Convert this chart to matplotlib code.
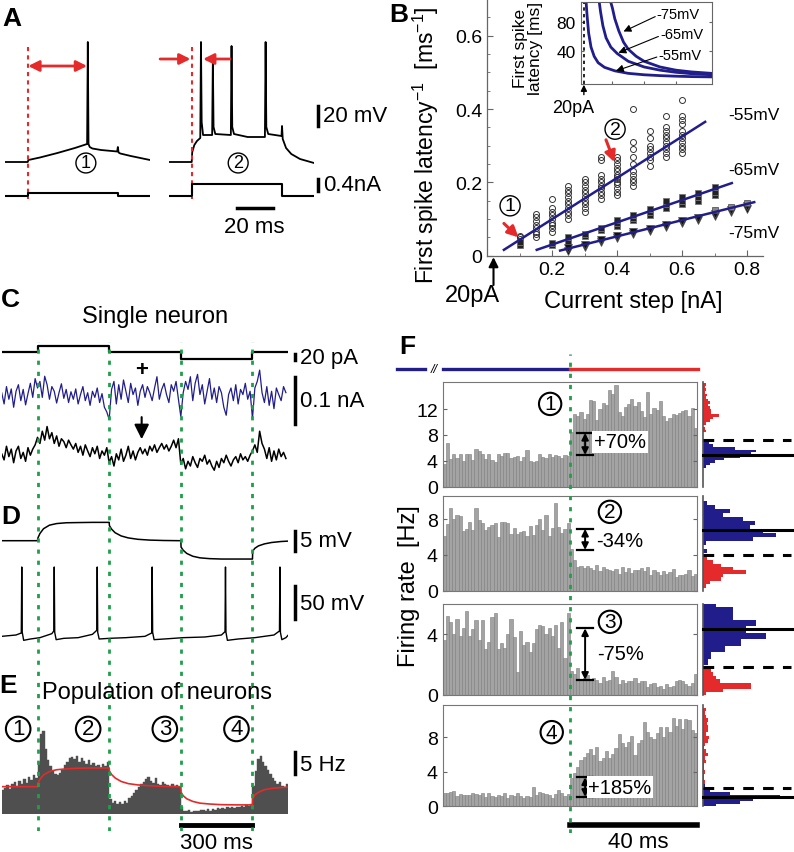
import matplotlib
matplotlib.use("Agg")
import matplotlib.pyplot as plt
import numpy as np

plt.rcParams["font.family"] = ["Liberation Sans", "DejaVu Sans"]
plt.rcParams["mathtext.fontset"] = "custom"
plt.rcParams["mathtext.rm"] = "Liberation Sans"
plt.rcParams["mathtext.it"] = "Liberation Sans:italic"

NAVY = "#211e8c"
RED = "#e42a2a"
GREEN = "#1f9f4c"
BARGRAY = "#a3a3a3"

# ---------------- data ----------------
# A: example responses (ms, mV, nA)
a_t1 = [0, 13, 13.4, 20, 30, 40, 47.0, 47.4, 47.8, 48.5, 50, 55, 64.2, 64.6, 65.0, 66, 72, 83]
a_v1 = [-65, -65, -63, -60.5, -56, -51, -47, 55, -47, -50, -51.5, -53, -54.5, -50, -55.5, -56.5, -59, -63]
a_t2 = [0, 13, 13.3, 14.5, 16, 17.9, 18.3, 18.7, 19.5, 24.7, 25.1, 25.5, 26.5, 35.4, 35.8, 36.2, 37.2,
        45, 54.9, 55.3, 55.7, 56.8, 64.4, 64.7, 65.1, 67, 70, 75, 83]
a_v2 = [-65, -65, -55, -48, -44, -41, 55, -25, -38, -38, 38, -30, -37, -38, 51, -30, -37,
        -40, -40, 55, -30, -37, -39, -29, -42, -51, -57, -62, -66]
a_step_t = [0, 13, 13, 64.6, 64.6, 83]
a_i1 = [0, 0, 0.1, 0.1, 0, 0]
a_i2 = [0, 0, 0.4, 0.4, 0, 0]

# B: inverse first spike latency vs current step
cur55 = [0.10, 0.15, 0.20, 0.25, 0.30, 0.35, 0.40, 0.45, 0.50, 0.55, 0.60]
lat55 = [
    [0.03, 0.035, 0.04, 0.045, 0.05, 0.055],
    [0.05, 0.06, 0.065, 0.075, 0.085, 0.095, 0.105, 0.115],
    [0.065, 0.075, 0.085, 0.09, 0.10, 0.11, 0.12, 0.13, 0.155],
    [0.10, 0.11, 0.12, 0.13, 0.14, 0.15, 0.16, 0.17, 0.18, 0.19],
    [0.12, 0.13, 0.14, 0.15, 0.16, 0.17, 0.18, 0.19, 0.20, 0.21],
    [0.155, 0.165, 0.175, 0.185, 0.19, 0.20, 0.21, 0.22, 0.26, 0.27],
    [0.165, 0.175, 0.185, 0.195, 0.20, 0.21, 0.215, 0.22, 0.23, 0.24, 0.25, 0.26, 0.27],
    [0.19, 0.20, 0.21, 0.22, 0.23, 0.25, 0.27, 0.29, 0.31, 0.40],
    [0.245, 0.26, 0.27, 0.28, 0.29, 0.30, 0.32, 0.34],
    [0.27, 0.28, 0.29, 0.30, 0.31, 0.32, 0.33, 0.34, 0.35, 0.38],
    [0.28, 0.29, 0.30, 0.31, 0.32, 0.33, 0.34, 0.36, 0.37, 0.38, 0.425],
]
cur65 = [0.10, 0.20, 0.25, 0.30, 0.35, 0.40, 0.45, 0.50, 0.55, 0.60, 0.65, 0.70]
lat65 = [[0.03, 0.036], [0.03, 0.035], [0.04, 0.05], [0.055, 0.06], [0.07, 0.076],
         [0.08, 0.09, 0.096], [0.096, 0.104, 0.11], [0.11, 0.12, 0.126], [0.13, 0.14, 0.15],
         [0.14, 0.15, 0.16], [0.15, 0.16, 0.17], [0.165, 0.175, 0.188]]
cur75 = [0.25, 0.30, 0.35, 0.40, 0.45, 0.50, 0.55, 0.60, 0.65, 0.70, 0.75, 0.80]
lat75 = [[0.013, 0.02], [0.025, 0.03], [0.038, 0.043], [0.048, 0.054], [0.058, 0.064],
         [0.068, 0.074], [0.078, 0.084], [0.088, 0.094], [0.098, 0.104], [0.108, 0.114],
         [0.118, 0.124], [0.128, 0.136]]
cur75_sq = [0.70, 0.75, 0.80]
lat75_sq = [0.125, 0.133, 0.145]
fit55_x, fit55_y = [0.052, 0.671], [0.016, 0.365]
fit65_x, fit65_y = [0.153, 0.753], [0.016, 0.198]
fit75_x, fit75_y = [0.225, 0.822], [0.014, 0.146]

# B inset: latency (ms) vs current (nA)
ins55_x = [0.033, 0.04, 0.05, 0.065, 0.085, 0.11, 0.15, 0.216, 0.3, 0.4, 0.5, 0.6, 0.7, 0.826]
ins55_y = [112, 90, 65, 45, 32, 23, 16.5, 11.5, 8, 6, 4.8, 4, 3.4, 3]
ins65_x = [0.115, 0.125, 0.14, 0.16, 0.19, 0.23, 0.3, 0.4, 0.5, 0.6, 0.7, 0.826]
ins65_y = [112, 95, 75, 58, 45, 36, 25, 17, 12.5, 9.5, 7.5, 6]
ins75_x = [0.185, 0.2, 0.215, 0.24, 0.27, 0.3, 0.35, 0.4, 0.5, 0.6, 0.7, 0.826]
ins75_y = [112, 100, 85, 68, 52, 42, 32, 25, 17, 12.5, 10, 8]

# C: current protocol (pA) and noisy traces, 10 ms samples
c_step_t = [0, 150, 150, 450, 450, 750, 750, 1050, 1050, 1200]
c_step_i = [0, 0, 20, 20, 0, 0, -20, -20, 0, 0]
c_switch = [150, 450, 750, 1050]
c_blue_pA = [7, -17, 20, -7, 15, -24, 10, 24, -10, 14, -19, 5, 27, -3, 37,
             17, 31, -3, 42, 24, -7, 20, 10, -15, 7, 26, -5, 14, -14, 9,
             -7, 15, -17, 3, 20, -10, 7, -20, 10, -3, 17, -14, 5, -24, -34,
             -50, 14, 31, -17, 24, -7, 34, 10, -14, 27, 3, 17, -20, 10, 24,
             -3, 20, 7, -10, 17, 41, -7, 14, 27, 3, -14, 24, 10, 31, -7,
             -44, 7, 31, 14, 41, -10, 27, 46, 3, 24, -17, 10, 37, -7, 17,
             -14, 20, 7, -24, -41, 3, 17, -10, 24, -17, 14, 3, 27, -7, 10,
             -48, 17, 31, 55, 7, -14, 20, -20, 10, -27, 17, 3, -10, 20, 7]
c_black_pA = [0, -13, 16, -6, 10, -19, 6, 16, -10, 3, -16, 13, -3, 10, 19,
              35, 22, 48, 29, 58, 32, 45, 22, 38, 16, 32, 26, 13, 29, 19,
              10, 22, 3, 16, -3, 19, 6, -6, 13, 0, 16, -10, 6, -3, 13,
              -19, -6, -26, 0, -13, 10, -16, -3, 16, -10, 6, -13, 3, 13, 0,
              10, -3, 16, 6, 19, 3, 13, 22, 10, 19, 6, 16, 29, 13, 32,
              -22, -10, -32, -16, -26, -6, -19, -29, -10, -16, -3, -22, -13, -26, -35,
              -16, -29, -10, -19, -3, -16, -26, -13, -6, -19, 0, -13, -6, -16, -3,
              6, 19, 3, 48, 22, 10, -10, 13, -16, 6, -13, 10, -6, 3, -10]

# D: subthreshold response (mV relative) and spiking trace (mV)
d_t = [0, 150, 151, 160, 175, 200, 230, 270, 320, 380, 450, 451, 460, 475, 500, 530, 570, 620,
       680, 750, 751, 760, 775, 800, 830, 870, 920, 980, 1050, 1051, 1060, 1075, 1100, 1130, 1170, 1200]
d_v = [0, 0, 0.6, 1.8, 3.0, 3.9, 4.3, 4.5, 4.55, 4.6, 4.6, 3.8, 2.9, 2.0, 1.2, 0.7, 0.35, 0.15,
       0.05, 0, -1.6, -2.4, -3.2, -3.9, -4.3, -4.5, -4.6, -4.6, -4.6, -2.6, -1.9, -1.3, -0.8, -0.45, -0.2, -0.1]
sp_t = [0, 60, 82, 84, 86, 92, 120, 160, 210, 218, 220, 222, 228, 260, 320, 380, 398, 400, 402, 408,
        450, 520, 600, 628, 630, 632, 638, 680, 760, 850, 920, 935, 937, 939, 945, 990, 1060, 1140,
        1163, 1165, 1167, 1173, 1190, 1200]
sp_v = [-66, -64, -61, 38, -60, -72, -70, -68, -62, -58, 38, -60, -71, -69, -68, -63, -57, 38, -60, -70,
        -69, -68, -66, -61, 38, -60, -71, -70, -68, -67, -64, -59, 38, -60, -72, -70, -68, -64,
        -58, 38, -60, -71, -68, -64]

# E: population rate (Hz), 10 ms bins, and model rate
e_rate = [5.5, 6.0, 6.6, 5.8, 6.9, 7.3, 6.4, 7.6, 7.0, 8.1, 7.2, 8.6, 7.8, 8.9, 8.2,
          12.0, 18.5, 19.2, 15.0, 12.5, 11.0, 9.8, 9.2, 9.0, 9.4, 10.2, 11.2, 12.0, 12.8, 13.2,
          12.6, 13.4, 12.0, 12.8, 12.2, 11.6, 12.4, 11.2, 11.8, 11.0, 11.4, 10.6, 11.6, 11.0, 12.0,
          3.4, 2.6, 3.0, 2.2, 2.8, 2.4, 3.1, 2.6, 3.6, 4.2, 4.8, 5.6, 6.2, 6.8, 7.4,
          8.0, 8.6, 7.6, 7.2, 8.2, 7.0, 6.6, 7.4, 6.8, 6.6, 6.2, 7.0, 6.4, 6.6, 6.2,
          1.6, 0.8, 0.6, 0.9, 0.5, 0.7, 0.8, 0.6, 0.9, 1.0, 0.7, 1.1, 0.8, 1.2, 1.0,
          1.3, 1.1, 1.4, 1.2, 1.5, 1.3, 1.6, 1.4, 1.7, 1.5, 1.9, 1.6, 2.0, 1.8, 2.2,
          6.5, 10.0, 12.6, 13.4, 12.0, 11.0, 10.2, 9.2, 8.2, 7.6, 7.0, 7.4, 6.4, 6.0, 6.8]
e_model = [6.3, 6.3, 6.9, 8.0, 9.0, 9.8, 10.2, 10.4, 10.55, 10.6, 10.6, 9.9, 9.1, 8.3, 7.5, 7.0, 6.7, 6.5,
           6.35, 6.3, 5.0, 4.2, 3.5, 2.9, 2.5, 2.3, 2.15, 2.1, 2.1, 3.6, 4.4, 5.0, 5.6, 5.9, 6.1, 6.2]

# F: firing rate histograms, 1 ms bins, 40 before / 40 after the switch
f_pre = [
    [3.5, 6.8, 4.3, 5.1, 4.4, 5.1, 4.0, 5.1, 5.1, 4.1, 5.8, 5.5, 5.0, 4.3, 5.1, 4.1, 3.8, 5.0, 4.8, 5.2,
     5.2, 4.4, 4.6, 4.8, 4.0, 4.5, 5.6, 4.0, 3.8, 3.9, 5.0, 4.6, 4.4, 5.0, 4.5, 4.9, 4.8, 4.4, 4.9, 4.8],
    [6.1, 7.4, 9.2, 8.0, 8.4, 8.3, 6.7, 6.9, 7.7, 6.8, 9.2, 7.9, 7.5, 6.8, 7.1, 7.3, 7.5, 6.0, 7.7, 7.7,
     7.5, 6.3, 7.0, 6.3, 6.6, 6.7, 6.1, 7.2, 6.2, 7.3, 8.0, 6.8, 8.4, 6.1, 7.0, 9.8, 7.1, 6.4, 6.9, 7.5],
    [3.6, 5.2, 4.8, 4.0, 5.0, 3.9, 4.4, 5.5, 3.9, 4.3, 4.9, 3.6, 4.9, 3.0, 3.5, 5.1, 5.4, 3.0, 3.4, 3.1,
     4.0, 5.0, 3.8, 1.5, 4.2, 3.3, 3.5, 2.8, 3.4, 4.3, 4.6, 4.5, 4.0, 4.4, 3.9, 4.6, 3.1, 4.8, 2.4, 5.4],
    [1.6, 1.5, 1.7, 1.8, 1.2, 1.4, 1.3, 1.3, 1.3, 1.5, 1.4, 1.3, 1.5, 1.1, 1.6, 1.2, 1.1, 1.3, 1.2, 1.5,
     1.0, 1.3, 1.2, 1.6, 1.2, 1.0, 1.2, 1.1, 2.2, 1.3, 1.7, 1.5, 1.4, 1.3, 1.0, 1.4, 1.9, 1.5, 1.2, 1.4],
]
f_post = [
    [8.5, 11.3, 11.0, 11.6, 10.5, 11.3, 13.4, 13.2, 10.3, 12.0, 13.0, 12.7, 14.9, 14.3, 15.8, 11.6, 11.0, 12.3, 12.8, 13.6,
     12.4, 13.1, 11.7, 10.7, 14.6, 11.3, 12.2, 11.9, 13.2, 11.0, 10.2, 10.6, 11.2, 11.1, 11.4, 11.7, 11.8, 11.0, 12.1, 9.1],
    [4.6, 3.4, 2.6, 2.8, 2.5, 2.8, 2.5, 2.3, 2.9, 2.2, 2.6, 2.4, 2.3, 2.2, 2.4, 1.9, 2.6, 2.1, 2.5, 2.0,
     2.3, 2.3, 2.5, 2.2, 2.6, 1.8, 2.3, 2.1, 1.7, 2.2, 1.9, 2.1, 2.4, 1.5, 1.8, 1.7, 1.9, 2.3, 1.6, 1.9],
    [1.6, 1.4, 1.8, 1.0, 1.1, 1.3, 0.9, 1.1, 1.0, 0.8, 1.2, 0.9, 1.0, 1.6, 1.2, 0.7, 1.0, 0.8, 0.9, 0.9,
     1.1, 0.8, 0.9, 0.9, 0.5, 0.7, 0.8, 0.5, 0.6, 0.4, 0.7, 0.5, 0.6, 0.9, 1.0, 0.9, 0.7, 0.6, 0.8, 1.4],
    [3.3, 3.9, 4.6, 5.4, 5.7, 6.2, 6.6, 5.9, 6.9, 5.3, 5.6, 6.4, 5.6, 6.1, 6.8, 8.4, 7.3, 6.9, 7.5, 8.2,
     6.0, 7.3, 7.7, 9.8, 8.6, 8.0, 7.8, 8.5, 9.2, 8.0, 9.2, 8.6, 10.2, 9.3, 10.1, 9.0, 10.1, 10.0, 8.8, 8.5],
]
f_labels = ["1", "2", "3", "4"]
f_change = ["+70%", "-34%", "-75%", "+185%"]
f_arrow = [(4.9, 8.3), (6.9, 4.55), (4.37, 1.0), (1.1, 3.36)]
f_yticks = [[0, 4, 8, 12], [0, 4, 8], [0, 4], [0, 4, 8]]
f_ytop = [16.15, 10.6, 5.97, 11.75]

# F: marginal distributions of rates (Hz centres, counts)
m_blue_hz = [[3.1, 3.5, 3.9, 4.3, 4.7, 5.1, 5.5, 5.9, 6.3, 6.7],
             [4.4, 5.3, 5.75, 6.2, 6.65, 7.1, 7.55, 8.0, 8.45, 8.9, 9.35, 9.8],
             [2.15, 2.58, 3.01, 3.44, 3.87, 4.30, 4.73, 5.16, 5.59, 5.95],
             [0.1, 0.45, 0.8, 1.15, 1.5, 1.9, 2.5]]
m_blue_n = [[3, 7, 12, 21, 37, 48, 53, 32, 10, 6],
            [4, 3, 50, 73, 60, 47, 52, 40, 20, 27, 12, 4],
            [5, 8, 22, 38, 63, 43, 53, 30, 30, 13],
            [13, 37, 50, 77, 27, 7, 2]]
m_red_hz = [[8.6, 9.0, 9.8, 10.2, 10.6, 11.0, 11.4, 11.8, 12.2, 12.6, 13.0, 13.4, 13.8, 14.2, 14.6, 15.0, 15.4, 15.8],
            [0.55, 0.93, 1.31, 1.69, 2.07, 2.45, 2.83, 3.21, 3.59],
            [0.18, 0.4, 0.62, 0.84, 1.06, 1.28, 1.5, 1.72],
            [2.8, 3.2, 3.6, 4.0, 4.4, 4.8, 5.2, 5.6, 6.0, 6.4, 6.8, 7.2, 7.6, 8.0, 8.4, 8.8, 9.2, 9.6, 10.0, 10.4, 10.8, 11.2]]
m_red_n = [[3, 2, 3, 7, 10, 16, 8, 8, 7, 5, 7, 5, 3, 4, 2, 3, 2, 3],
           [3, 7, 18, 20, 43, 30, 18, 10, 4],
           [3, 20, 48, 17, 13, 10, 8, 7],
           [2, 1, 1, 2, 1, 1, 3, 2, 5, 3, 1, 2, 5, 6, 3, 5, 5, 4, 5, 3, 2, 3]]
m_mean = [4.93, 6.82, 4.33, 1.04]
m_thresh = [7.26, 4.02, 1.82, 2.08]

# ---------------- layout helpers ----------------
W, H = 794, 853
fig = plt.figure(figsize=(W / 100, H / 100), dpi=100)


def px_axes(x0, y0, x1, y1, off=True):
    ax = fig.add_axes([x0 / W, 1 - y1 / H, (x1 - x0) / W, (y1 - y0) / H])
    if off:
        ax.axis("off")
    return ax


def fig_text(x, y, s, **kw):
    fig.text(x / W, 1 - y / H, s, **kw)


def circled(ax, x, y, s, size=13, lw=1.0):
    ax.text(x, y, s, ha="center", va="center", fontsize=size, zorder=6,
            bbox=dict(boxstyle="circle,pad=0.08", fc="white", ec="black", lw=lw))


for lab, (x, y) in zip("ABCDEF", [(12, 19), (399, 15), (10, 300), (11, 517), (8, 686), (407, 347)]):
    fig_text(x, y, lab, fontsize=19, fontweight="bold", ha="center", va="center")

# ---------------- A ----------------
for k, (x0, tt, vv, ii) in enumerate([(5, a_t1, a_v1, a_i1), (169, a_t2, a_v2, a_i2)]):
    axv = px_axes(x0, 38, x0 + 145, 172)
    axi = px_axes(x0, 176, x0 + 145, 205)
    axv.set_xlim(0, 83); axv.set_ylim(-74, 60)
    axi.set_xlim(0, 83); axi.set_ylim(-0.277, 0.69)
    axv.plot(tt, vv, color="black", lw=1.3)
    axi.plot(a_step_t, ii, color="black", lw=1.5)
    axv.plot([13, 13], [50, -102], color=RED, ls=(0, (2, 2)), lw=1.5, clip_on=False)
    if k == 0:
        axv.annotate("", xy=(13.3, 31), xytext=(47, 31),
                     arrowprops=dict(arrowstyle="<|-|>", color=RED, lw=2, mutation_scale=16,
                                     shrinkA=0, shrinkB=0))
        circled(axv, 46.3, -66, "1", size=13)
    else:
        axv.annotate("", xy=(12.3, 38), xytext=(-5.1, 38), annotation_clip=False,
                     arrowprops=dict(arrowstyle="-|>", color=RED, lw=2, mutation_scale=16,
                                     shrinkA=0, shrinkB=0))
        axv.annotate("", xy=(19.5, 38), xytext=(34.9, 38),
                     arrowprops=dict(arrowstyle="-|>", color=RED, lw=2, mutation_scale=16,
                                     shrinkA=0, shrinkB=0))
        circled(axv, 39.6, -66, "2", size=13)
        axv.plot([85.3, 85.3], [-9, -29], color="black", lw=2.5, clip_on=False)
        axv.text(88, -19, "20 mV", fontsize=16, va="center", ha="left")
        axi.plot([85.3, 85.3], [0.17, 0.55], color="black", lw=2.5, clip_on=False)
        axi.text(88, 0.36, "0.4nA", fontsize=16, va="center", ha="left")
        axi.plot([38.7, 59.3], [-0.41, -0.41], color="black", lw=2.5, clip_on=False)
        axi.text(49, -1.04, "20 ms", fontsize=16, va="center", ha="center")

# ---------------- B ----------------
axB = px_axes(487, 0, 763, 256.7, off=False)
for c, ys in zip(cur55, lat55):
    axB.plot([c] * len(ys), ys, "o", ms=4.3, mfc="none", mec="#333333", mew=0.7)
for c, ys in zip(cur65, lat65):
    axB.plot([c] * len(ys), ys, "s", ms=4.3, mfc="#222222", mec="#777777", mew=0.6)
for c, ys in zip(cur75, lat75):
    axB.plot([c] * len(ys), ys, "v", ms=6, mfc="#111111", mec="#555555", mew=0.5)
axB.plot(cur75_sq, lat75_sq, "s", ms=4.5, mfc="#888888", mec="#444444", mew=0.5)
for fx, fy in [(fit55_x, fit55_y), (fit65_x, fit65_y), (fit75_x, fit75_y)]:
    axB.plot(fx, fy, color=NAVY, lw=1.8, zorder=4)
axB.text(0.743, 0.386, "-55mV", fontsize=12.5, ha="left", va="center")
axB.text(0.743, 0.236, "-65mV", fontsize=12.5, ha="left", va="center")
axB.text(0.743, 0.064, "-75mV", fontsize=12.5, ha="left", va="center")
circled(axB, 0.071, 0.136, "1", size=14)
circled(axB, 0.394, 0.345, "2", size=14)
for (x0, y0), (x1, y1) in [((0.052, 0.088), (0.097, 0.05)), ((0.366, 0.316), (0.392, 0.255))]:
    axB.annotate("", xy=(x1, y1), xytext=(x0, y0),
                 arrowprops=dict(arrowstyle="-|>", color=RED, lw=2.2, mutation_scale=16,
                                 shrinkA=0, shrinkB=0), zorder=6)
axB.set_xlim(0, 0.849)
axB.set_ylim(0, 0.7)
axB.set_xticks([0.2, 0.4, 0.6, 0.8])
axB.set_xticklabels(["0.2", "0.4", "0.6", "0.8"])
axB.set_xticks([0.1, 0.3, 0.5, 0.7], minor=True)
axB.set_yticks([0, 0.2, 0.4, 0.6])
axB.set_yticklabels(["0", "0.2", "0.4", "0.6"])
axB.set_yticks([0.05, 0.1, 0.15, 0.25, 0.3, 0.35, 0.45, 0.5, 0.55, 0.65], minor=True)
axB.tick_params(which="both", direction="in", labelsize=14, color="#666666")
axB.tick_params(which="major", length=4)
axB.tick_params(which="minor", length=2.5)
for s in ["top", "right"]:
    axB.spines[s].set_visible(False)
for s in ["left", "bottom"]:
    axB.spines[s].set_color("#666666")
    axB.spines[s].set_linewidth(0.9)
axB.set_ylabel("First spike latency$^{-1}$  [ms$^{-1}$]", fontsize=16.5)
axB.yaxis.set_label_coords(-0.165, 0.435)
axB.set_xlabel("Current step [nA]", fontsize=17)
axB.xaxis.set_label_coords(0.53, -0.135)
axB.annotate("", xy=(0.02, -0.004), xytext=(0.02, -0.08), annotation_clip=False,
             arrowprops=dict(arrowstyle="-|>", color="black", lw=1.5, mutation_scale=14,
                             shrinkA=0, shrinkB=0))
axB.text(-0.045, -0.108, "20pA", fontsize=17, ha="center", va="center", clip_on=False)

# B inset
axI = px_axes(580.7, 2.7, 711.7, 85, off=False)
axI.patch.set_facecolor("white")
for xx, yy in [(ins55_x, ins55_y), (ins65_x, ins65_y), (ins75_x, ins75_y)]:
    axI.plot(xx, yy, color=NAVY, lw=2)
axI.axvline(0.02, color="black", ls=(0, (2, 2)), lw=1.2)
axI.set_xlim(0, 0.826)
axI.set_ylim(-7, 109)
axI.set_xticks([0.2, 0.4, 0.6])
axI.set_xticklabels([])
axI.set_yticks([40, 80])
axI.tick_params(direction="in", labelsize=12.5, length=2.5, color="#666666", right=True)
for s in axI.spines.values():
    s.set_color("#666666")
    s.set_linewidth(0.8)
axI.set_ylabel("First spike\nlatency [ms]", fontsize=12.5, linespacing=1.0)
axI.yaxis.set_label_coords(-0.29, 0.45)
for lab, (tx, ty), (hx, hy) in [("-75mV", (0.47, 88), (0.27, 67)),
                                ("-65mV", (0.49, 60), (0.238, 37)),
                                ("-55mV", (0.48, 31), (0.222, 11.5))]:
    axI.annotate("", xy=(hx, hy), xytext=(tx, ty),
                 arrowprops=dict(arrowstyle="-|>", color="black", lw=0.8, mutation_scale=11,
                                 shrinkA=0, shrinkB=0))
    axI.text(tx + 0.01, ty + 3, lab, fontsize=10.5, ha="left", va="center")
axI.annotate("", xy=(0.02, -8), xytext=(0.02, -22), annotation_clip=False,
             arrowprops=dict(arrowstyle="-|>", color="black", lw=1, mutation_scale=9,
                             shrinkA=0, shrinkB=0))
axI.text(-0.05, -28, "20pA", fontsize=13, ha="center", va="top", clip_on=False)

# ---------------- C ----------------
t10 = np.arange(0, 1200, 10)
fig_text(155, 317, "Single neuron", fontsize=17, ha="center", va="center")
axCs = px_axes(1.7, 340, 288.3, 370)
axCs.set_xlim(0, 1200); axCs.set_ylim(-49.9, 39.7)
axCs.plot(c_step_t, c_step_i, color="black", lw=1.6)
axCs.plot([1227, 1227], [-6, -24], color="black", lw=2.5, clip_on=False)
axCs.text(1250, -15, "20 pA", fontsize=16, ha="left", va="center")

axCn = px_axes(1.7, 370, 288.3, 475)
axCn.set_xlim(0, 1200); axCn.set_ylim(-0.166, 0.0574)
axCn.plot(t10, np.array(c_blue_pA) / 1000, color=NAVY, lw=0.9)
axCn.plot(t10, np.array(c_black_pA) / 1000 - 0.123, color="black", lw=1.1)
axCn.text(586, 0.057, "+", fontsize=16, fontweight="bold", ha="center", va="center")
axCn.annotate("", xy=(586, -0.092), xytext=(586, -0.045),
              arrowprops=dict(arrowstyle="-|>", color="black", lw=1.5, mutation_scale=22,
                              shrinkA=0, shrinkB=0))
axCn.plot([1227, 1227], [0.040, -0.060], color="black", lw=2.5, clip_on=False)
axCn.text(1250, -0.01, "0.1 nA", fontsize=16, ha="left", va="center")

# ---------------- D ----------------
axD1 = px_axes(1.7, 515, 288.3, 570)
axD1.set_xlim(0, 1200); axD1.set_ylim(-7.1, 6.7)
axD1.plot(d_t, d_v, color="black", lw=1.1)
axD1.plot([1227, 1227], [2.5, -2.5], color="black", lw=2.5, clip_on=False)
axD1.text(1250, 0, "5 mV", fontsize=16, ha="left", va="center")

axD2 = px_axes(1.7, 560, 288.3, 650)
axD2.set_xlim(0, 1200); axD2.set_ylim(-85, 50)
axD2.plot(sp_t, sp_v, color="black", lw=1.0)
axD2.plot([1227, 1227], [10, -40], color="black", lw=2.5, clip_on=False)
axD2.text(1250, -17, "50 mV", fontsize=16, ha="left", va="center")

# ---------------- E ----------------
fig_text(157, 693, "Population of neurons", fontsize=17, ha="center", va="center")
axE = px_axes(1.7, 700, 288.3, 815)
axE.set_xlim(0, 1200); axE.set_ylim(0, 26.5)
axE.bar(t10, e_rate, width=10, align="edge", color="#4f4f4f", edgecolor="#4f4f4f", lw=0.3)
axE.plot(d_t, e_model, color=RED, lw=1.2)
axE.plot([1227, 1227], [14.2, 9.2], color="black", lw=2.5, clip_on=False)
axE.text(1250, 11.5, "5 Hz", fontsize=16, ha="left", va="center")
axE.plot([750, 1050], [-2.5, -2.5], color="black", lw=3.5, clip_on=False)
axE.text(900, -6.6, "300 ms", fontsize=16, ha="center", va="center")
for lab, tx in zip(["1", "2", "3", "4"], [69, 362, 683, 983]):
    circled(axE, tx, 19.6, lab, size=16, lw=1.5)

axG = px_axes(1.7, 343, 288.3, 832)
axG.set_xlim(0, 1200); axG.set_ylim(0, 1)
for t in c_switch:
    axG.axvline(t, color=GREEN, ls=(0, (1.5, 2.5)), lw=2)

# ---------------- F ----------------
boxes = [(383.3, 487.5), (496.7, 591.7), (605, 696), (706, 807.3)]
fx = np.arange(-40, 40)
for k, (y0, y1) in enumerate(boxes):
    ax = px_axes(442.7, y0, 697, y1, off=False)
    ax.bar(fx, f_pre[k] + f_post[k], width=1, align="edge", color=BARGRAY,
           edgecolor="#7d7d7d", lw=0.4)
    ax.set_xlim(-40, 40)
    ax.set_ylim(0, f_ytop[k])
    ax.set_xticks([])
    ax.set_yticks(f_yticks[k])
    ax.tick_params(axis="y", direction="in", length=3, labelsize=14, color="#666666", right=True)
    for s in ax.spines.values():
        s.set_color("#777777")
        s.set_linewidth(0.8)
    ya, yb = f_arrow[k]
    xa = 4.8
    ax.annotate("", xy=(xa, yb), xytext=(xa, ya),
                arrowprops=dict(arrowstyle="<|-|>", color="black", lw=1.4, mutation_scale=10,
                                shrinkA=0, shrinkB=0), zorder=5)
    for yy in (ya, yb):
        ax.plot([xa - 2.6, xa + 2.6], [yy, yy], color="black", lw=1.6, zorder=5)
    ty = [6.9, 5.6, 2.7, 2.2][k]
    ax.text(15.8, ty, f_change[k], fontsize=14.5, ha="center", va="center", zorder=6,
            bbox=dict(boxstyle="square,pad=0.08", fc="white", ec="none"))
    cx, cy = [(-6.2, 12.8), (12.6, 8.8), (12.6, 4.8), (-5.7, 8.6)][k]
    circled(ax, cx, cy, f_labels[k], size=15, lw=1.5)
    if k == 0:
        ytop = f_ytop[0] + 13.3 / 6.45
        ax.plot([-54.5, -45.6], [ytop, ytop], color=NAVY, lw=2.4, clip_on=False)
        ax.plot([-40, 0], [ytop, ytop], color=NAVY, lw=2.4, clip_on=False)
        ax.plot([0, 40.3], [ytop, ytop], color=RED, lw=2.4, clip_on=False)
        ax.text(-42.8, ytop, "//", fontsize=9, ha="center", va="center", style="italic")
    if k == 3:
        ax.plot([0, 40], [-2.17, -2.17], color="black", lw=4, clip_on=False)
        ax.text(21.4, -4.14, "40 ms", fontsize=16, ha="center", va="center")

    axm = px_axes(703, y0, 794, y1)
    axm.set_ylim(0, f_ytop[k]); axm.set_xlim(0, 91)
    axm.barh(m_blue_hz[k], m_blue_n[k], height=0.42, color=NAVY, lw=0)
    axm.barh(m_red_hz[k], m_red_n[k], height=0.4, color=RED, lw=0)
    axm.plot([0, 0], [0, f_ytop[k]], color="#555555", lw=1.2, clip_on=False)
    axm.plot([0, 91], [m_mean[k], m_mean[k]], color="black", lw=2.2, clip_on=False)
    axm.plot([0, 88], [m_thresh[k], m_thresh[k]], color="black", lw=2.2, ls=(0, (3.5, 3)))

fig_text(409, 586, "Firing rate  [Hz]", fontsize=17, rotation=90, ha="center", va="center")
axFg = px_axes(442.7, 355, 697, 834)
axFg.set_xlim(-40, 40); axFg.set_ylim(0, 1)
axFg.axvline(0, color=GREEN, ls=(0, (1.5, 2.5)), lw=2)

fig.savefig("out.png", dpi=100)
